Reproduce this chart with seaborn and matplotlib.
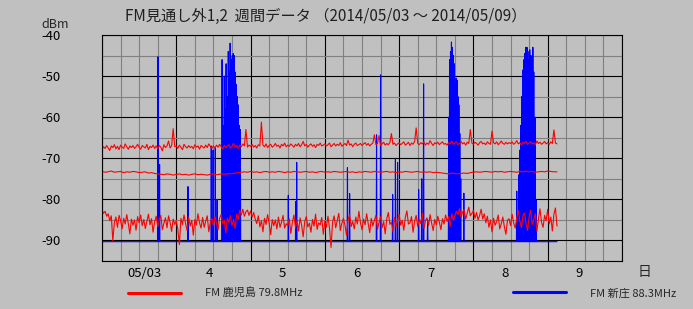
import numpy as np
import pandas as pd
import matplotlib
matplotlib.use("Agg")
import matplotlib.pyplot as plt
import seaborn as sns
from matplotlib.lines import Line2D
from matplotlib.ticker import MultipleLocator

# ---------------- data ----------------
title_text = "FM見通し外1,2  週間データ （2014/05/03 ～ 2014/05/09）"
unit_label = "dBm"
day_labels = ["05/03", "4", "5", "6", "7", "8", "9"]
day_unit = "日"
series_names = ["FM 鹿児島 79.8MHz", "FM 新庄 88.3MHz"]
y_ticks = [-40, -50, -60, -70, -80, -90]

# red (FM 鹿児島) upper trace, sampled every 0.5 h from 05/03 00:00
red_upper = [
    -67.8, -67.2, -67.6, -66.9, -67.5, -68.1, -67.0, -67.4, -66.7, -67.7, -67.1, -67.9, -66.8, -67.3, -67.6, -66.5, -67.2, -67.8, -67.0, -67.4, -66.9, -67.6, -67.2, -66.6,
    -67.3, -67.8, -66.9, -67.2, -67.5, -66.6, -67.9, -67.1, -67.4, -66.8, -67.6, -67.0, -67.7, -66.9, -67.3, -68.2, -66.7, -67.4, -67.0, -65.8, -67.5, -66.9, -62.8, -67.2,
    -67.0, -67.6, -66.8, -67.3, -67.9, -66.6, -67.2, -67.5, -66.9, -67.4, -67.1, -67.7, -66.7, -67.3, -67.0, -67.8, -66.9, -67.2, -67.5, -66.8, -67.4, -66.5, -67.1, -67.6,
    -67.0, -67.5, -66.8, -67.3, -66.6, -67.2, -67.8, -66.9, -67.4, -67.0, -66.7, -67.5, -67.1, -66.4, -67.3, -66.9, -67.6, -66.8, -67.2, -66.5, -67.0, -63.0, -67.3, -66.8,
    -67.1, -66.6, -67.3, -66.9, -67.5, -66.7, -67.0, -61.2, -66.8, -67.2, -66.5, -67.4, -66.9, -66.6, -67.3, -67.0, -66.4, -67.1, -66.8, -67.5, -66.6, -67.0, -66.3, -67.2,
    -66.8, -67.1, -66.5, -66.9, -67.3, -66.6, -67.0, -66.4, -67.2, -66.7, -65.9, -67.0, -66.6, -67.3, -66.8, -66.5, -67.1, -66.7, -67.4, -66.6, -66.9, -66.3, -67.0, -66.8,
    -66.5, -67.0, -66.7, -66.3, -67.2, -66.8, -66.4, -67.0, -66.6, -66.9, -66.2, -67.1, -66.7, -66.4, -66.9, -65.6, -66.8, -66.5, -67.2, -66.6, -66.3, -66.9, -66.7, -66.4,
    -66.9, -66.5, -66.2, -66.8, -66.4, -67.0, -66.6, -66.3, -64.3, -66.7, -66.4, -64.5, -66.9, -66.5, -66.1, -66.8, -66.4, -66.7, -66.2, -64.0, -66.6, -66.3, -66.9, -66.5,
    -66.2, -66.7, -66.4, -66.0, -66.8, -66.5, -66.1, -66.9, -66.3, -66.6, -65.9, -62.6, -66.4, -66.7, -66.2, -66.5, -66.0, -66.8, -66.3, -66.6, -65.7, -66.4, -66.9, -66.2,
    -66.5, -66.1, -66.7, -66.3, -66.0, -66.6, -66.4, -66.8, -66.2, -66.5, -65.8, -66.6, -66.3, -66.0, -66.7, -66.4, -65.9, -66.5, -66.2, -66.8, -66.1, -66.4, -63.0, -66.3,
    -66.6, -66.1, -66.4, -66.8, -66.2, -65.9, -66.5, -66.3, -66.7, -66.0, -66.4, -66.6, -63.4, -66.2, -66.5, -66.0, -66.7, -66.3, -65.8, -66.4, -66.6, -66.1, -66.5, -66.2,
    -66.4, -66.0, -66.6, -66.3, -65.7, -66.5, -66.2, -66.8, -66.1, -66.4, -65.9, -66.6, -66.3, -66.0, -66.5, -66.2, -66.7, -65.8, -66.4, -66.1, -66.6, -66.3, -65.9, -66.5,
    -66.2, -66.6, -66.0, -66.4, -63.1, -66.3, -66.5,
]

# red middle trace, sampled every 1 h
red_middle = [
    -73.2, -73.4, -73.3, -73.1, -73.4, -73.3, -73.2, -73.5, -73.3, -73.4, -73.2, -73.3, -73.5, -73.4, -73.3, -73.6, -73.5, -73.7,
    -73.8, -73.9, -74.0, -73.8, -73.9, -74.1, -73.9, -73.8, -74.0, -73.9, -74.1, -73.9, -73.8, -74.0, -73.9, -74.0, -74.1, -73.9,
    -73.8, -74.0, -73.9, -73.8, -73.9, -73.7, -73.8, -73.6, -73.5, -73.4,
    -73.3, -73.4, -73.2, -73.4, -73.3, -73.5, -73.3, -73.2, -73.4, -73.3,
    -73.4, -73.2, -73.3, -73.5, -73.3, -73.4, -73.2, -73.3, -73.4, -73.3,
    -73.2, -73.4, -73.3, -73.5, -73.3, -73.2, -73.4, -73.3, -73.4, -73.2,
    -73.3, -73.4, -73.3, -73.2, -73.4, -73.3, -73.5, -73.3, -73.4, -73.2,
    -73.3, -73.4, -73.2, -73.3, -73.4, -73.3, -73.2, -73.4, -73.3, -73.5,
    -73.3, -73.4, -73.2, -73.3, -73.4, -73.3, -73.2, -73.4, -73.3, -73.4,
    -73.3, -73.5, -73.4, -73.5, -73.6,
    -73.7, -73.8, -73.6, -73.7, -73.8, -73.7, -73.6, -73.7, -73.5, -73.4, -73.3, -73.4,
    -73.3, -73.2, -73.3, -73.4, -73.2, -73.3, -73.2, -73.4, -73.3, -73.2, -73.3, -73.4, -73.2,
    -73.3, -73.1, -73.3, -73.2, -73.4, -73.3, -73.2, -73.3, -73.1, -73.2, -73.3, -73.3,
]

# red lower trace, sampled every 0.5 h
red_lower = [
    -82.6, -83.4, -82.9, -84.1, -83.5, -85.2, -84.0, -90.1, -85.6, -84.3, -86.8, -83.9, -85.1, -87.2, -84.6, -86.0, -83.7, -85.9, -88.4, -84.8, -86.3, -85.0, -87.5, -84.2,
    -85.7, -83.8, -86.4, -84.9, -87.1, -85.3, -83.6, -86.2, -84.7, -88.0, -85.5, -84.1, -86.6, -85.0, -83.9, -87.4, -85.8, -84.5, -86.9, -84.0, -85.6, -87.8, -84.8, -86.1,
    -85.2, -87.3, -91.0, -84.6, -86.1, -83.8, -85.9, -87.6, -84.3, -86.5, -85.1, -88.7, -84.9, -86.2, -83.5, -85.7, -87.0, -84.4, -86.8, -85.3, -84.0, -87.9, -85.6, -84.7,
    -86.3, -84.2, -85.8, -87.4, -84.6, -83.7, -86.0, -85.1, -88.2, -84.5, -85.7, -83.9, -86.4, -84.8, -87.1, -83.6, -84.9, -82.7, -83.8, -82.4, -84.1, -83.0, -82.6, -83.9,
    -82.8, -84.3, -83.2, -84.8, -85.9, -84.0, -86.7, -85.2, -87.9, -84.6, -86.1, -83.7, -85.8, -88.6, -84.9, -86.4, -85.0, -87.2, -84.3, -86.8, -85.5, -83.9, -87.0, -85.9,
    -86.4, -84.7, -88.3, -85.6, -83.8, -86.9, -85.2, -87.7, -84.5, -86.3, -89.1, -85.4, -84.2, -86.7, -85.8, -88.0, -84.9, -86.5, -83.6, -87.3, -85.7, -86.2, -84.4, -88.5,
    -85.3, -86.8, -84.1, -87.0, -91.7, -85.5, -84.0, -86.9, -85.2, -83.4, -87.6, -85.8, -84.6, -86.3, -88.8, -85.0, -83.7, -86.6, -85.4, -87.2, -84.3, -86.0, -82.9, -85.7,
    -87.4, -84.8, -86.2, -83.5, -85.9, -88.1, -84.6, -86.5, -85.1, -83.9, -87.3, -85.6, -84.2, -86.9, -85.4, -88.4, -84.7, -83.2, -86.1, -85.5, -87.8, -84.4, -86.7, -85.0,
    -83.6, -86.3, -85.1, -87.5, -84.4, -82.8, -86.0, -85.7, -84.2, -88.0, -85.3, -83.9, -86.6, -84.8, -85.9, -83.3, -87.1, -85.2, -84.5, -86.4, -83.7, -85.8, -87.6, -84.9,
    -86.2, -84.1, -85.6, -87.4, -84.7, -86.0, -83.8, -85.4, -84.2, -86.6, -83.5, -85.1, -84.0, -82.9, -83.7, -82.2, -84.4, -83.1, -82.5, -84.8, -83.3, -81.9, -84.0, -83.4,
    -82.7, -84.6, -83.2, -85.0, -83.9, -82.4, -84.8, -83.5, -85.7, -84.1, -86.8, -85.0, -87.9, -84.6, -86.3, -85.4, -83.8, -87.2, -85.9, -84.3, -86.7, -88.5, -85.1, -84.7,
    -86.4, -83.6, -85.8, -87.0, -84.5, -82.8, -85.3, -86.9, -84.0, -83.3, -85.9, -87.6, -84.2, -82.6, -86.1, -85.0, -83.5, -87.8, -84.7, -82.3, -85.6, -86.8, -83.9, -85.2,
    -82.4, -86.0, -84.3, -87.7, -83.6, -82.1, -86.5,
]

# blue (FM 新庄): floor level and the hours / levels of its bursts
blue_floor = -90.3
blue_span_hours = 147.0
blue_hours = [
    18.1, 18.6, 27.8, 35.3, 35.9, 36.6, 37.2,
    38.8, 39.1, 39.5, 39.8, 40.1, 40.4, 40.8, 41.1, 41.4, 41.7, 42.1, 42.4, 42.7, 43.0, 43.4, 43.7, 44.0, 44.4, 44.7,
    60.2, 62.6, 62.9, 79.3, 80.0, 88.7, 90.0, 93.9, 94.8, 95.5,
    102.3, 103.3, 103.9, 105.2,
    112.0, 112.3, 112.6, 112.9, 113.2, 113.5, 113.8, 114.1, 114.4, 114.7, 115.0, 115.3, 115.6, 115.9,
    116.9,
    134.0, 134.3, 134.7, 135.0, 135.3, 135.6, 136.0, 136.3, 136.6, 136.9, 137.3, 137.6, 137.9, 138.2, 138.6, 138.9, 139.2, 139.5, 139.9, 140.2,
]
blue_dbm = [
    -45.3, -71.5, -76.9, -67.0, -68.0, -67.5, -80.0,
    -46.0, -62.0, -50.0, -58.0, -47.0, -55.0, -44.0, -49.0, -42.0, -46.0, -45.0, -44.5, -45.0, -49.0, -52.0, -55.0, -57.0, -62.0, -63.0,
    -79.0, -80.5, -71.0, -72.3, -78.6, -64.3, -49.7, -78.8, -70.0, -71.0,
    -77.6, -75.0, -51.9, -85.0,
    -60.0, -46.0, -44.0, -41.7, -43.0, -45.0, -47.0, -52.0, -50.5, -51.0, -55.0, -57.0, -64.0, -75.0,
    -78.5,
    -78.0, -84.0, -74.0, -68.0, -62.0, -55.0, -48.5, -46.0, -44.5, -43.0, -43.0, -44.0, -46.0, -43.6, -45.0, -47.0, -43.0, -49.0, -60.0, -80.0,
]

# ---------------- tables ----------------
def trace(values, step):
    return pd.DataFrame({"hour": np.arange(len(values)) * step, "dbm": values})

df_upper = trace(red_upper, 0.5)
df_middle = trace(red_middle, 1.0)
df_lower = trace(red_lower, 0.5)

grid_step = 0.1
blue_grid = np.arange(int(round(blue_span_hours / grid_step)) + 1) * grid_step
blue_vals = np.full(blue_grid.shape, blue_floor)
for h, v in zip(blue_hours, blue_dbm):
    blue_vals[int(round(h / grid_step))] = v
df_blue = pd.DataFrame({"hour": blue_grid, "dbm": blue_vals})

# ---------------- style ----------------
BG = "#C0C0C0"
RED = "#FF0000"
BLUE = "#0000FF"
sns.set_style("white")
plt.rcParams["font.family"] = ["Noto Sans CJK JP", "DejaVu Sans"]
plt.rcParams["axes.unicode_minus"] = False

W, H = 693, 309
fig = plt.figure(figsize=(W / 100, H / 100), dpi=100, facecolor=BG)
ax = fig.add_axes([102 / W, (H - 261) / H, 520 / W, 226 / H])
ax.set_facecolor(BG)

sns.lineplot(data=df_blue, x="hour", y="dbm", ax=ax, color=BLUE, linewidth=0.8,
             estimator=None, sort=False, legend=False)
for d in (df_upper, df_middle, df_lower):
    sns.lineplot(data=d, x="hour", y="dbm", ax=ax, color=RED, linewidth=0.8,
                 estimator=None, sort=False, legend=False)

ax.set_xlim(0, 168)
ax.set_ylim(-95, -40)
ax.xaxis.set_major_locator(MultipleLocator(24))
ax.xaxis.set_minor_locator(MultipleLocator(6))
ax.set_yticks(y_ticks)
ax.yaxis.set_minor_locator(MultipleLocator(5))
ax.set_axisbelow(True)
ax.grid(which="major", color="black", linewidth=0.8)
ax.grid(which="minor", color="#808080", linewidth=0.8)
ax.tick_params(axis="x", which="both", length=0, labelbottom=False)
ax.tick_params(axis="y", which="both", length=0, pad=30, labelsize=9.5, labelcolor="black")
ax.set_yticklabels([f"-{abs(t)}" for t in y_ticks])
ax.set_xlabel("")
ax.set_ylabel("")
for s in ax.spines.values():
    s.set_color("black")
    s.set_linewidth(0.8)

# day labels on a secondary axis
label_pos = [13.6, 34.7, 58.3, 82.3, 106.2, 130.2, 154.2]
sec = ax.secondary_xaxis("bottom")
sec.set_xticks(label_pos, day_labels)
sec.tick_params(length=0, pad=4, labelsize=9.5, labelcolor="black")
sec.spines["bottom"].set_visible(False)

fig.text(644 / W, 1 - 272 / H, day_unit, ha="center", va="center", fontsize=10)
fig.text(55 / W, 1 - 24 / H, unit_label, ha="center", va="center", fontsize=9)
fig.text(326 / W, 1 - 16 / H, title_text, ha="center", va="center", fontsize=11, color="#202020")

# legends
h_red = Line2D([], [], color=RED, linewidth=2.2)
h_blue = Line2D([], [], color=BLUE, linewidth=2.2)
kw = dict(frameon=False, fontsize=8, handlelength=4.8, handletextpad=2.1,
          borderpad=0, borderaxespad=0, loc="center left")
leg1 = fig.legend([h_red], [series_names[0]], bbox_to_anchor=(128 / W, 1 - 293 / H), **kw)
leg2 = fig.legend([h_blue], [series_names[1]], bbox_to_anchor=(513 / W, 1 - 293 / H), **kw)

fig.savefig("out.png", dpi=100, facecolor=BG)
